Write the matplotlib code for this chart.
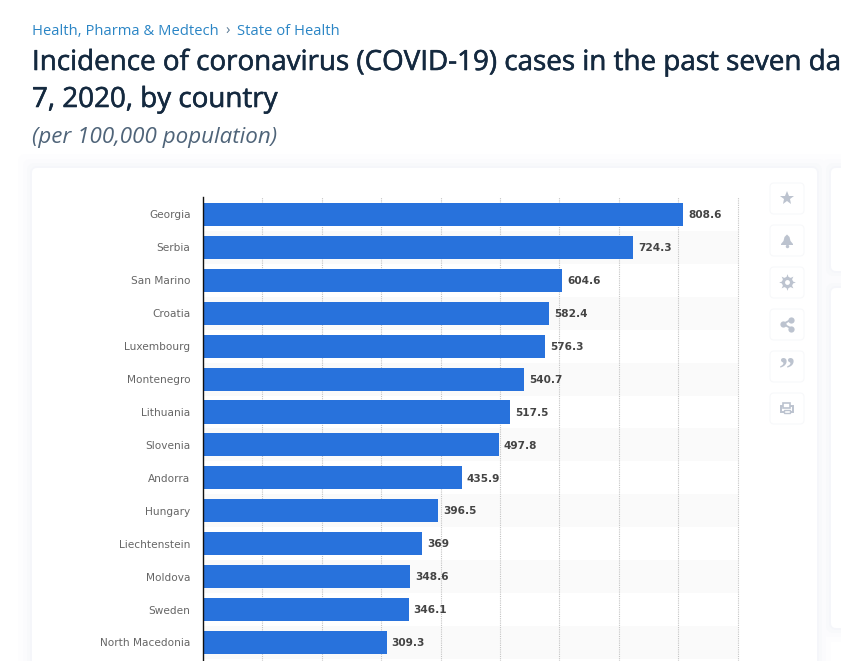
import matplotlib
matplotlib.use('Agg')
import matplotlib.pyplot as plt
import matplotlib.patheffects as pe
from matplotlib.patches import FancyBboxPatch, Rectangle

countries = ['Georgia', 'Serbia', 'San Marino', 'Croatia', 'Luxembourg', 'Montenegro',
             'Lithuania', 'Slovenia', 'Andorra', 'Hungary', 'Liechtenstein', 'Moldova',
             'Sweden', 'North Macedonia']
values = [808.6, 724.3, 604.6, 582.4, 576.3, 540.7, 517.5, 497.8, 435.9, 396.5,
          369, 348.6, 346.1, 309.3]
value_labels = ['808.6', '724.3', '604.6', '582.4', '576.3', '540.7', '517.5', '497.8',
                '435.9', '396.5', '369', '348.6', '346.1', '309.3']
grid_ticks = [100, 200, 300, 400, 500, 600, 700, 800, 900]

W, H = 841, 661
BLUE = '#2872dc'
ROW = 32.92

fig = plt.figure(figsize=(W / 100, H / 100), dpi=100, facecolor='white')

# page background in pixel coords
bg = fig.add_axes([0, 0, 1, 1], zorder=0)
bg.set_xlim(0, W)
bg.set_ylim(H, 0)
bg.axis('off')


def card(x, y, w, h, r=5, fc='white', ec='none', z=1):
    p = FancyBboxPatch((x, y), w, h, boxstyle='round,pad=0,rounding_size=%g' % r,
                       fc=fc, ec=ec, lw=0.8, zorder=z)
    bg.add_patch(p)


# soft shadow around the cards
for pad, c in [(14, '#fdfdfe'), (9, '#fbfbfd'), (5, '#f8f9fb'), (2, '#f5f6fa')]:
    card(32 - pad, 168 - pad, 785 + 2 * pad, 520 + 2 * pad, r=8, fc=c)
    card(831 - pad, 168 - pad, 40, 103 + 2 * pad, r=8, fc=c)
    card(831 - pad, 288 - pad, 40, 340 + 2 * pad, r=8, fc=c)
bg.add_patch(Rectangle((819, 168), 10, 520, fc='#eff1f7', ec='none', zorder=0.9))
bg.add_patch(Rectangle((829, 271), 12, 17, fc='#f4f5f9', ec='none', zorder=0.9))
card(32, 168, 785, 520)
card(831, 168, 40, 103)
card(831, 288, 40, 340)

# breadcrumb and titles, the long title runs off the page in the reference
sans = 'Open Sans'
bg.text(32, 31.5, 'Health, Pharma & Medtech', color='#2a85c5', fontsize=10.6,
        family=sans, va='center')
bg.text(225, 31.5, '\u203a', color='#5a7a95', fontsize=10.6, family=sans, va='center')
bg.text(237, 31.5, 'State of Health', color='#2a85c5', fontsize=10.6, family=sans, va='center')
# no medium weight available, so thicken the regular one a little
medium = [pe.withStroke(linewidth=0.4, foreground='#14293f')]
bg.text(32, 63, 'Incidence of coronavirus (COVID-19) cases in the past seven da',
        color='#14293f', fontsize=20, family=sans, va='center', path_effects=medium)
bg.text(32, 100, '7, 2020, by country', color='#14293f', fontsize=20, family=sans,
        va='center', path_effects=medium)
bg.text(32, 137, '(per 100,000 population)', color='#4f6479', fontsize=16.1, family=sans,
        style='italic', va='center')

# side buttons
icon_col = '#bcc3cf'
for yc in [198, 240, 282, 324, 366, 408]:
    card(770, yc - 15, 34, 31, r=4, fc='#ffffff', ec='#f7f8fa', z=2)
bg.plot(787, 198, marker='*', ms=10, color=icon_col, mew=0, zorder=3)
# bell
bg.fill([781, 783.5, 784.5, 787, 789.5, 790.5, 793, 793, 781],
        [244, 241, 237, 234.5, 237, 241, 244, 245, 245], color=icon_col, lw=0, zorder=3)
bg.plot(787, 246, marker='o', ms=2.5, color=icon_col, mew=0, zorder=3)
# gear
bg.plot(787, 282, marker=(8, 1, 0), ms=12, color=icon_col, mew=0, zorder=3)
bg.plot(787, 282, marker='o', ms=8, color=icon_col, mew=0, zorder=3)
bg.plot(787, 282, marker='o', ms=3.5, color='white', mew=0, zorder=4)
# share
bg.plot([791.5, 783, 791.5], [319.5, 324, 328.5], color=icon_col, lw=1.3, marker='o',
        ms=4.5, mew=0, zorder=3)
# quotes
bg.text(787, 371, '\u201d', color=icon_col, fontsize=23, weight='bold', ha='center',
        va='center', zorder=3, family='Liberation Serif')
# printer
bg.add_patch(Rectangle((781, 406), 12, 5.5, fc='none', ec=icon_col, lw=1.4, zorder=3))
bg.add_patch(Rectangle((783.5, 402.5), 7, 5, fc='white', ec=icon_col, lw=1.2, zorder=4))
bg.add_patch(Rectangle((784, 409.5), 6, 3.5, fc='white', ec=icon_col, lw=1, zorder=4))

# chart axes, left 203 -> right 737.5 (0-900), top 197 -> image bottom
ax = fig.add_axes([203 / W, 0, 534.5 / W, (H - 197) / H], zorder=2)
ax.patch.set_alpha(0)
ax.set_xlim(0, 900)
ax.set_ylim((H - 214.5) / ROW, -17.5 / ROW)

pos = list(range(len(countries)))
for i in pos:
    if i % 2 == 1:
        ax.axhspan(i - 0.5, i + 0.5, color='#fafafa', lw=0, zorder=0)
for t in grid_ticks:
    ax.axvline(t, color='#c4c4c4', lw=0.8, ls=(0, (1, 1)), zorder=1, clip_on=False)

ax.barh(pos, values, height=0.7, color=BLUE, zorder=2)
for i in pos:
    ax.annotate(value_labels[i], (values[i], i), xytext=(3.6, -0.5), textcoords='offset points',
                va='center', ha='left', fontsize=7.6, weight='bold', color='#444444',
                family='DejaVu Sans', zorder=3)

ax.set_yticks(pos)
ax.set_yticklabels(countries, fontsize=7.6, color='#666666', family='DejaVu Sans')
ax.tick_params(axis='y', length=0, pad=9)
ax.set_xticks([])
for s in ['top', 'right', 'bottom']:
    ax.spines[s].set_visible(False)
ax.spines['left'].set_color('#111111')
ax.spines['left'].set_linewidth(1)

fig.savefig('out.png', dpi=100, facecolor=fig.get_facecolor())
